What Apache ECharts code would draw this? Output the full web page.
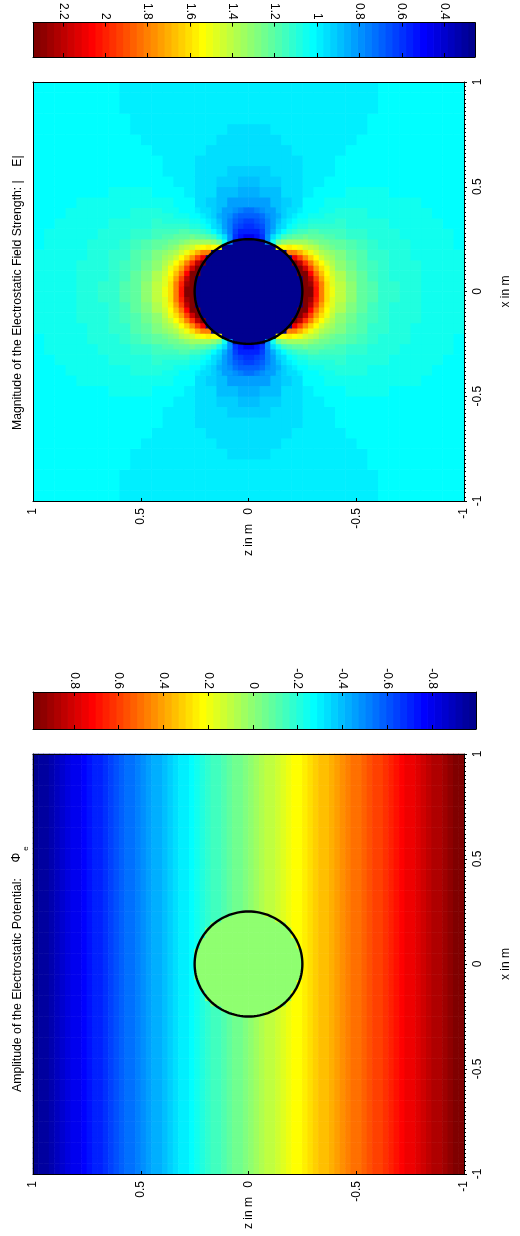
<!DOCTYPE html>
<html>
<head>
<meta charset="utf-8">
<script src="https://cdn.jsdelivr.net/npm/echarts@6/dist/echarts.min.js"></script>
<style>
html,body{margin:0;padding:0;background:#fff;}
#chart{width:520px;height:1236px;}
</style>
</head>
<body>
<div id="chart"></div>
<script>
// ---------------- data ----------------
// |E| in one quadrant, coarse: rows = x from 0.025 to 0.975 (step 0.05), cols = z from 0.025 to 0.975
const fieldQuadrant = [
  [0.26,0.26,0.26,0.26,0.26,2.34,1.92,1.57,1.41,1.30,1.22,1.17,1.13,1.11,1.09,1.07,1.06,1.05,1.04,1.04],
  [0.26,0.26,0.26,0.26,0.26,2.27,1.80,1.54,1.38,1.28,1.21,1.16,1.13,1.10,1.08,1.07,1.06,1.05,1.04,1.04],
  [0.26,0.26,0.26,0.26,2.34,1.95,1.64,1.45,1.33,1.25,1.19,1.15,1.12,1.10,1.08,1.07,1.06,1.05,1.04,1.04],
  [0.26,0.26,0.26,0.26,1.87,1.63,1.46,1.35,1.27,1.21,1.17,1.13,1.11,1.09,1.07,1.06,1.05,1.05,1.04,1.04],
  [0.26,0.26,1.20,1.47,1.44,1.38,1.31,1.25,1.21,1.17,1.14,1.11,1.10,1.08,1.07,1.06,1.05,1.04,1.04,1.03],
  [0.45,0.65,0.97,1.12,1.19,1.20,1.19,1.17,1.15,1.13,1.11,1.10,1.08,1.07,1.06,1.05,1.05,1.04,1.04,1.03],
  [0.60,0.70,0.86,0.98,1.06,1.10,1.11,1.11,1.11,1.10,1.09,1.08,1.07,1.06,1.05,1.05,1.04,1.04,1.03,1.03],
  [0.74,0.77,0.86,0.94,1.00,1.04,1.06,1.07,1.07,1.07,1.07,1.06,1.06,1.05,1.05,1.04,1.04,1.03,1.03,1.03],
  [0.81,0.84,0.88,0.93,0.97,1.01,1.03,1.04,1.05,1.05,1.05,1.05,1.04,1.04,1.04,1.04,1.03,1.03,1.03,1.03],
  [0.86,0.88,0.90,0.94,0.97,0.99,1.01,1.02,1.03,1.04,1.04,1.04,1.04,1.03,1.03,1.03,1.03,1.03,1.02,1.02],
  [0.90,0.91,0.92,0.95,0.97,0.98,1.00,1.01,1.02,1.02,1.03,1.03,1.03,1.03,1.03,1.03,1.02,1.02,1.02,1.02],
  [0.93,0.93,0.94,0.95,0.97,0.98,0.99,1.00,1.01,1.02,1.02,1.02,1.02,1.02,1.02,1.02,1.02,1.02,1.02,1.02],
  [0.94,0.95,0.95,0.96,0.97,0.98,0.99,1.00,1.01,1.01,1.01,1.02,1.02,1.02,1.02,1.02,1.02,1.02,1.02,1.02],
  [0.96,0.96,0.96,0.97,0.98,0.98,0.99,1.00,1.00,1.01,1.01,1.01,1.01,1.01,1.02,1.02,1.02,1.02,1.02,1.02],
  [0.96,0.97,0.97,0.98,0.98,0.99,0.99,1.00,1.00,1.00,1.01,1.01,1.01,1.01,1.01,1.01,1.01,1.01,1.01,1.01],
  [0.97,0.97,0.98,0.98,0.98,0.99,0.99,1.00,1.00,1.00,1.00,1.01,1.01,1.01,1.01,1.01,1.01,1.01,1.01,1.01],
  [0.98,0.98,0.98,0.98,0.99,0.99,0.99,1.00,1.00,1.00,1.00,1.01,1.01,1.01,1.01,1.01,1.01,1.01,1.01,1.01],
  [0.98,0.98,0.98,0.99,0.99,0.99,0.99,1.00,1.00,1.00,1.00,1.00,1.01,1.01,1.01,1.01,1.01,1.01,1.01,1.01],
  [0.99,0.99,0.99,0.99,0.99,0.99,0.99,1.00,1.00,1.00,1.00,1.00,1.01,1.01,1.01,1.01,1.01,1.01,1.01,1.01],
  [0.99,0.99,0.99,0.99,0.99,0.99,1.00,1.00,1.00,1.00,1.00,1.00,1.01,1.01,1.01,1.01,1.01,1.01,1.01,1.01]
];
// |E| near the circle, fine: rows = x from 0.0125 to 0.3875 (step 0.025), cols = z from 0.0125 to 0.3875
const fieldFineQuadrant = [
  [0.26,0.26,0.26,0.26,0.26,0.26,0.26,0.26,0.26,0.26,2.34,2.31,2.02,1.81,1.62,1.50],
  [0.26,0.26,0.26,0.26,0.26,0.26,0.26,0.26,0.26,0.26,2.34,2.26,1.99,1.79,1.61,1.49],
  [0.26,0.26,0.26,0.26,0.26,0.26,0.26,0.26,0.26,0.26,2.34,2.18,1.93,1.75,1.58,1.47],
  [0.26,0.26,0.26,0.26,0.26,0.26,0.26,0.26,0.26,2.34,2.34,2.06,1.85,1.68,1.55,1.45],
  [0.26,0.26,0.26,0.26,0.26,0.26,0.26,0.26,0.26,2.34,2.16,1.93,1.75,1.61,1.51,1.42],
  [0.26,0.26,0.26,0.26,0.26,0.26,0.26,0.26,2.34,2.18,1.96,1.79,1.65,1.54,1.45,1.38],
  [0.26,0.26,0.26,0.26,0.26,0.26,0.26,0.26,2.09,1.92,1.77,1.65,1.55,1.46,1.39,1.34],
  [0.26,0.26,0.26,0.26,0.26,0.26,0.26,1.80,1.79,1.69,1.60,1.52,1.45,1.39,1.34,1.30],
  [0.26,0.26,0.26,0.26,0.26,1.55,1.55,1.56,1.55,1.50,1.45,1.41,1.37,1.33,1.29,1.26],
  [0.26,0.26,0.26,0.80,1.05,1.25,1.31,1.34,1.36,1.35,1.34,1.31,1.29,1.26,1.24,1.22],
  [0.48,0.52,0.60,0.80,0.95,1.06,1.14,1.19,1.22,1.23,1.24,1.23,1.22,1.21,1.19,1.18],
  [0.55,0.58,0.63,0.75,0.87,0.96,1.03,1.09,1.12,1.14,1.16,1.17,1.17,1.16,1.16,1.15],
  [0.60,0.62,0.66,0.75,0.83,0.91,0.97,1.02,1.06,1.08,1.10,1.11,1.12,1.12,1.12,1.12],
  [0.64,0.66,0.70,0.76,0.82,0.88,0.94,0.98,1.02,1.04,1.06,1.07,1.08,1.09,1.09,1.09],
  [0.68,0.70,0.74,0.78,0.83,0.87,0.92,0.95,0.99,1.01,1.03,1.04,1.05,1.06,1.07,1.07],
  [0.74,0.75,0.78,0.81,0.84,0.88,0.91,0.94,0.97,0.99,1.01,1.02,1.03,1.04,1.05,1.06]
];
// potential outside the circle, one value per z column (z from +1 side to -1 side, 80 columns)
const potentialByZ = [-0.99,-0.96,-0.94,-0.91,-0.89,-0.86,-0.84,-0.81,-0.79,-0.76,
  -0.74,-0.71,-0.69,-0.66,-0.64,-0.61,-0.59,-0.56,-0.54,-0.51,
  -0.49,-0.46,-0.44,-0.41,-0.39,-0.36,-0.34,-0.31,-0.29,-0.26,
  -0.24,-0.21,-0.19,-0.16,-0.14,-0.11,-0.09,-0.06,-0.04,-0.01,
  0.01,0.04,0.06,0.09,0.11,0.14,0.16,0.19,0.21,0.24,
  0.26,0.29,0.31,0.34,0.36,0.39,0.41,0.44,0.46,0.49,
  0.51,0.54,0.56,0.59,0.61,0.64,0.66,0.69,0.71,0.74,
  0.76,0.79,0.81,0.84,0.86,0.89,0.91,0.94,0.96,0.98];
const potentialInside = [0.00];
const circleRadius = [0.25];
const fieldColorRange = [0.254, 2.342];
const potentialColorRange = [-0.997, 0.983];
const fieldColorTicks = [2.2, 2, 1.8, 1.6, 1.4, 1.2, 1, 0.8, 0.6, 0.4];
const potentialColorTicks = [0.8, 0.6, 0.4, 0.2, 0, -0.2, -0.4, -0.6, -0.8];
const axisTicks = [1, 0.5, 0, -0.5, -1];
const titles = ['Magnitude of the Electrostatic Field Strength: |    E|', 'Amplitude of the Electrostatic Potential:', '\u03A6', 'e'];
const axisNames = ['z in m', 'x in m'];

// ---------------- colormap (MATLAB jet, 64 levels) ----------------
function jet(m) {
  const n = Math.ceil(m / 4);
  const u = [];
  for (let i = 1; i <= n; i++) u.push(i / n);
  for (let i = 1; i < n; i++) u.push(1);
  for (let i = n; i >= 1; i--) u.push(i / n);
  const off = Math.ceil(n / 2) - (m % 4 === 1 ? 1 : 0);
  const R = new Array(m).fill(0), G = new Array(m).fill(0), B = new Array(m).fill(0);
  for (let t = 0; t < u.length; t++) {
    const g = off + t; const r = g + n; const b = g - n;
    if (r < m) R[r] = u[t];
    if (g < m) G[g] = u[t];
    if (b >= 0) B[b] = u[t];
  }
  const hex = v => ('0' + Math.round(v * 255).toString(16)).slice(-2);
  return R.map((_, k) => '#' + hex(R[k]) + hex(G[k]) + hex(B[k]));
}
const JET = jet(64);
function makePieces(range) {
  const lo = range[0], hi = range[1], n = JET.length, step = (hi - lo) / n;
  return JET.map((c, k) => {
    const p = { color: c };
    if (k > 0) p.gte = lo + k * step;
    if (k < n - 1) p.lt = lo + (k + 1) * step;
    return p;
  });
}

// ---------------- tables built from the arrays ----------------
function mirrorQuadrant(q, extent) {
  const N = q.length * 2, cell = 2 * extent / N, half = N / 2, out = [];
  for (let a = 0; a < N; a++) {
    const xc = -extent + (a + 0.5) * cell;
    const i = a < half ? half - 1 - a : a - half;
    for (let b = 0; b < N; b++) {
      const zc = -extent + (b + 0.5) * cell;
      const j = b < half ? half - 1 - b : b - half;
      out.push([zc, xc, q[i][j]]);
    }
  }
  return { data: out, cell };
}
const coarse = mirrorQuadrant(fieldQuadrant, 1);
const fine = mirrorQuadrant(fieldFineQuadrant, 0.4);

const PN = potentialByZ.length, pCell = 2 / PN;
const potentialData = [];
for (let a = 0; a < PN; a++) {
  const xc = -1 + (a + 0.5) * pCell;
  for (let b = 0; b < PN; b++) {
    const zc = 1 - (b + 0.5) * pCell;
    const inside = zc * zc + xc * xc < circleRadius[0] * circleRadius[0];
    potentialData.push([zc, xc, inside ? potentialInside[0] : potentialByZ[b]]);
  }
}

// ---------------- rendering helpers ----------------
const FONT = '"Liberation Sans", Arial, Helvetica, sans-serif';
function cellRenderer(cell) {
  return function (params, api) {
    const c = api.coord([api.value(0), api.value(1)]);
    const s = api.size([cell, cell]);
    return {
      type: 'rect',
      shape: { x: c[0] - s[0] / 2 - 0.3, y: c[1] - s[1] / 2 - 0.3, width: s[0] + 0.6, height: s[1] + 0.6 },
      style: { fill: api.visual('color') }
    };
  };
}
function circleRenderer(params, api) {
  const cx = api.value(0), cy = api.value(1), r = api.value(2);
  const pts = [];
  for (let k = 0; k <= 120; k++) {
    const t = k / 120 * Math.PI * 2;
    pts.push(api.coord([cx + r * Math.cos(t), cy + r * Math.sin(t)]));
  }
  return { type: 'polyline', shape: { points: pts }, style: { fill: null, stroke: '#000', lineWidth: 2.4 } };
}
function colorbarRenderer(range) {
  return function (params, api) {
    const k = api.value(0), n = JET.length, step = (range[1] - range[0]) / n;
    const v0 = range[0] + k * step, v1 = v0 + step;
    const p0 = api.coord([v0, 0]), p1 = api.coord([v1, 1]);
    return {
      type: 'rect',
      shape: { x: Math.min(p0[0], p1[0]) - 0.35, y: Math.min(p0[1], p1[1]), width: Math.abs(p1[0] - p0[0]) + 0.7, height: Math.abs(p1[1] - p0[1]) },
      style: { fill: JET[k] }
    };
  };
}
const black = { color: '#000', width: 1 };
const labelStyle = { color: '#000', fontSize: 12, fontFamily: FONT };

function colorbarAxes(gridIndex, range, ticks) {
  const x = [
    { gridIndex, type: 'value', position: 'top', min: range[0], max: range[1], inverse: true, z: 10,
      axisLine: { show: true, onZero: false, lineStyle: black },
      axisTick: { show: true, inside: true, length: 4, lineStyle: black, customValues: ticks },
      axisLabel: Object.assign({ show: true, rotate: 90, margin: 3, customValues: ticks }, labelStyle),
      splitLine: { show: false } },
    { gridIndex, type: 'value', position: 'bottom', min: range[0], max: range[1], inverse: true, z: 10,
      axisLine: { show: true, onZero: false, lineStyle: black },
      axisTick: { show: true, inside: true, length: 4, lineStyle: black, customValues: ticks },
      axisLabel: { show: false }, splitLine: { show: false } }
  ];
  const y = [
    { gridIndex, type: 'value', position: 'left', min: 0, max: 1, z: 10,
      axisLine: { show: true, onZero: false, lineStyle: black }, axisTick: { show: false }, axisLabel: { show: false }, splitLine: { show: false } },
    { gridIndex, type: 'value', position: 'right', min: 0, max: 1, z: 10,
      axisLine: { show: true, onZero: false, lineStyle: black }, axisTick: { show: false }, axisLabel: { show: false }, splitLine: { show: false } }
  ];
  return { x, y };
}
function mainAxes(gridIndex) {
  const x = [
    { gridIndex, type: 'value', position: 'bottom', min: -1, max: 1, interval: 0.5, inverse: true, z: 10,
      axisLine: { show: true, onZero: false, lineStyle: black },
      axisTick: { show: true, inside: true, length: 3, lineStyle: black },
      axisLabel: Object.assign({ show: true, rotate: 90, margin: 7, showMinLabel: true, showMaxLabel: true }, labelStyle),
      splitLine: { show: false },
      name: axisNames[0], nameLocation: 'middle', nameGap: 23, nameRotate: 90, nameMoveOverlap: false,
      nameTextStyle: { color: '#000', fontSize: 12, fontFamily: FONT } },
    { gridIndex, type: 'value', position: 'top', min: -1, max: 1, inverse: true, z: 10,
      axisLine: { show: true, onZero: false, lineStyle: black }, axisTick: { show: false }, axisLabel: { show: false }, splitLine: { show: false } }
  ];
  const y = [
    { gridIndex, type: 'value', position: 'right', min: -1, max: 1, interval: 0.5, z: 10,
      axisLine: { show: true, onZero: false, lineStyle: black },
      axisTick: { show: true, inside: false, length: 3, lineStyle: black },
      minorTick: { show: true, splitNumber: 25, length: 2, lineStyle: black },
      axisLabel: Object.assign({ show: true, rotate: 90, margin: 8, showMinLabel: true, showMaxLabel: true }, labelStyle),
      splitLine: { show: false }, minorSplitLine: { show: false },
      name: axisNames[1], nameLocation: 'middle', nameGap: 36, nameRotate: 90, nameMoveOverlap: false,
      nameTextStyle: { color: '#000', fontSize: 12, fontFamily: FONT } },
    { gridIndex, type: 'value', position: 'left', min: -1, max: 1, z: 10,
      axisLine: { show: true, onZero: false, lineStyle: black }, axisTick: { show: false }, axisLabel: { show: false }, splitLine: { show: false } }
  ];
  return { x, y };
}

const fcb = colorbarAxes(0, fieldColorRange, fieldColorTicks);
const fm = mainAxes(1);
const pcb = colorbarAxes(2, potentialColorRange, potentialColorTicks);
const pm = mainAxes(3);

const option = {
  backgroundColor: '#fff',
  animation: false,
  grid: [
    { left: 33, top: 21, width: 442, height: 36 },
    { left: 33, top: 82, width: 442, height: 419 },
    { left: 33, top: 692, width: 443, height: 37 },
    { left: 33, top: 754, width: 443, height: 420 }
  ],
  xAxis: [].concat(fcb.x, fm.x, pcb.x, pm.x),
  yAxis: [].concat(fcb.y, fm.y, pcb.y, pm.y),
  visualMap: [
    { type: 'piecewise', show: false, seriesIndex: [0, 1], dimension: 2, pieces: makePieces(fieldColorRange) },
    { type: 'piecewise', show: false, seriesIndex: 4, dimension: 2, pieces: makePieces(potentialColorRange) }
  ],
  series: [
    { type: 'custom', name: 'field', xAxisIndex: 2, yAxisIndex: 2, data: coarse.data, renderItem: cellRenderer(coarse.cell), clip: true, silent: true, z: 2 },
    { type: 'custom', name: 'fieldNearCircle', xAxisIndex: 2, yAxisIndex: 2, data: fine.data, renderItem: cellRenderer(fine.cell), clip: true, silent: true, z: 3 },
    { type: 'custom', name: 'fieldCircle', xAxisIndex: 2, yAxisIndex: 2, data: [[0, 0, circleRadius[0]]], renderItem: circleRenderer, silent: true, z: 5 },
    { type: 'custom', name: 'fieldColorbar', xAxisIndex: 0, yAxisIndex: 0, data: JET.map((c, k) => [k]), renderItem: colorbarRenderer(fieldColorRange), clip: true, silent: true, z: 2 },
    { type: 'custom', name: 'potential', xAxisIndex: 6, yAxisIndex: 6, data: potentialData, renderItem: cellRenderer(pCell), clip: true, silent: true, z: 2 },
    { type: 'custom', name: 'potentialCircle', xAxisIndex: 6, yAxisIndex: 6, data: [[0, 0, circleRadius[0]]], renderItem: circleRenderer, silent: true, z: 5 },
    { type: 'custom', name: 'potentialColorbar', xAxisIndex: 4, yAxisIndex: 4, data: JET.map((c, k) => [k]), renderItem: colorbarRenderer(potentialColorRange), clip: true, silent: true, z: 2 }
  ],
  graphic: [
    { type: 'text', x: 18, y: 430, rotation: Math.PI / 2, silent: true,
      style: { text: titles[0], fill: '#000', fontSize: 12.2, fontFamily: FONT, align: 'left', verticalAlign: 'middle', textAlign: 'left', textVerticalAlign: 'middle' } },
    { type: 'text', x: 18, y: 1092, rotation: Math.PI / 2, silent: true,
      style: { text: titles[1], fill: '#000', fontSize: 12.3, fontFamily: FONT, align: 'left', verticalAlign: 'middle', textAlign: 'left', textVerticalAlign: 'middle' } },
    { type: 'text', x: 17, y: 857.5, rotation: Math.PI / 2, silent: true,
      style: { text: titles[2], fill: '#000', fontSize: 12.3, fontFamily: FONT, align: 'center', verticalAlign: 'middle', textAlign: 'center', textVerticalAlign: 'middle' } },
    { type: 'text', x: 26, y: 848.5, rotation: Math.PI / 2, silent: true,
      style: { text: titles[3], fill: '#000', fontSize: 8, fontFamily: FONT, align: 'center', verticalAlign: 'middle', textAlign: 'center', textVerticalAlign: 'middle' } }
  ]
};
const chart = echarts.init(document.getElementById('chart'), null, { renderer: 'canvas' });
chart.setOption(option);
</script>
</body>
</html>
